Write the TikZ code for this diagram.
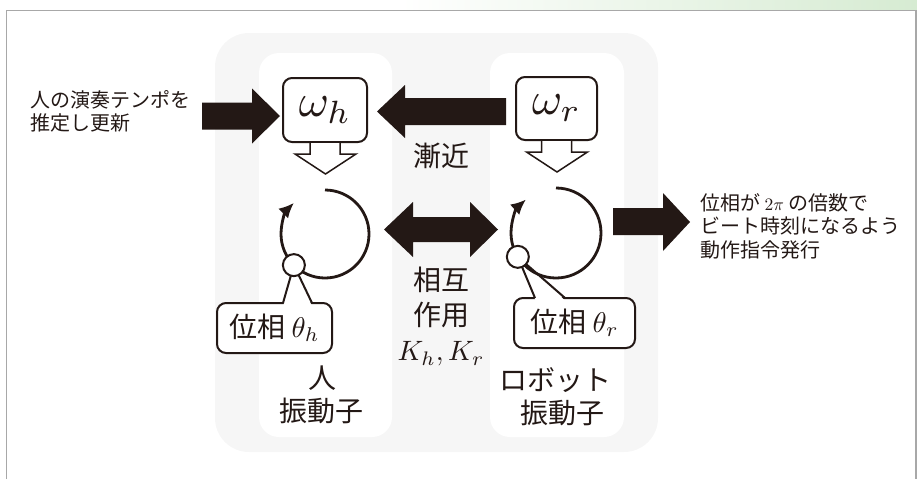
\documentclass[tikz,border=0pt]{standalone}
\usepackage{graphicx}
\usepackage[no-math]{fontspec}
\setmainfont{Noto Sans CJK JP}
\usetikzlibrary{arrows.meta}
\definecolor{ink}{HTML}{231815}
\definecolor{panel}{HTML}{F6F6F6}
\definecolor{framegray}{HTML}{A8A8A8}
\definecolor{bandgreen}{HTML}{D6EBD2}
\newcommand\mth[2]{\scalebox{#1}{\fontsize{10}{12}\selectfont$#2$}}
\begin{document}
\begin{tikzpicture}[x=1pt,y=-1pt,
  wbox/.style={draw=ink, line width=2, rounded corners=9, fill=white, minimum width=84, minimum height=64, inner sep=0, text=ink},
  callout/.style={draw=ink, line width=2, rounded corners=9, fill=white, minimum height=50, inner sep=0, font=\fontsize{28}{30}\selectfont, text=ink},
  dot/.style={circle, draw=ink, line width=2, fill=white, minimum size=22, inner sep=0},
  lab/.style={text=ink, inner sep=0, font=\fontsize{28}{34}\selectfont},
  note/.style={text=ink, inner sep=0, align=left, font=\fontsize{20}{23.5}\selectfont},
  hollow/.style={draw=ink, line width=1.5, fill=white, line join=miter},
  fat/.style={fill=ink},
  cyc/.style={draw=ink, line width=2.8, -{Latex[length=15,width=14]}}
]
\useasboundingbox (0,0) rectangle (917,479);
% top band and frame
\shade[left color=white, right color=bandgreen] (400,0) rectangle (917,10);
\draw[framegray, line width=1.5] (6.5,479) -- (6.5,10.5) -- (916,10.5) -- (916,479);
% panels
\fill[panel, rounded corners=34] (215,33) rectangle (658,452);
\fill[white, rounded corners=20] (259,53) rectangle (392,437);
\fill[white, rounded corners=20] (490,53) rectangle (624,437);
% omega boxes
\node[wbox] (wh) at (325,110) {\mth{4.6}{\omega_h}};
\node[wbox, minimum width=81, minimum height=63] (wr) at (556.5,108.5) {\mth{4.6}{\omega_r}};
% hollow arrows
\draw[hollow] ([xshift=-15pt]wh.south) -- ++(0,11) -- ++(-15,0) -- ++(30.5,20) -- ++(30.5,-20) -- ++(-16,0) -- ++(0,-11);
\draw[hollow] ([xshift=-15pt]wr.south) -- ++(0,11) -- ++(-15,0) -- ++(30.5,20) -- ++(30.5,-20) -- ++(-16,0) -- ++(0,-11);
% fat arrows
\fill[fat] (202,102.5) -- (252,102.5) -- (252,88.5) -- (280,116) -- (252,143.5) -- (252,129.5) -- (202,129.5) -- cycle;
\fill[fat] (506,98) -- (405,98) -- (405,85) -- (377,111.5) -- (405,138) -- (405,125) -- (506,125) -- cycle;
\fill[fat] (384,229.5) -- (413,202) -- (413,217) -- (470,217) -- (470,202) -- (498,229.5) -- (470,257) -- (470,242) -- (413,242) -- (413,257) -- cycle;
\fill[fat] (613,208) -- (663,208) -- (663,193) -- (690,222) -- (663,251) -- (663,235) -- (613,235) -- cycle;
% oscillator centres and phase points
\coordinate (ch) at (325,234);
\coordinate (cr) at (556,233);
\path (ch) ++(135:44) coordinate (ph);
\path (cr) ++(148:45) coordinate (pr);
% callouts
\node[callout, minimum width=115] (lh) at (274.5,328) {位相 \mth{2.85}{\theta_h}};
\node[callout, minimum width=121] (lr) at (574.5,323) {位相 \mth{2.85}{\theta_r}};
\fill[white] (283.5,305) -- (ph) -- (311.5,305) -- cycle;
\fill[white] (535.5,300) -- (pr) -- (564.5,300) -- cycle;
\draw[ink, line width=2, line join=round] (283,303) -- (ph) -- (312,303);
\draw[ink, line width=2, line join=round] (535,298) -- (pr) -- (565,298);
% cycles
\draw[cyc] (ch) ++(-90:44) arc[start angle=-90, end angle=225, radius=44];
\draw[cyc] (cr) ++(-90:45) arc[start angle=-90, end angle=228, radius=45];
\node[dot] (dh) at (ph) {};
\node[dot] (dr) at (pr) {};
% labels
\node[note, anchor=west] (intext) at (30,111.5) {人の演奏テンポを\\推定し更新};
\node[note, anchor=west] (outtext) at (700,226) {位相が \mth{1.75}{2\pi} の倍数で\\ビート時刻になるよう\\動作指令発行};
\node[lab] (zk) at (441,156) {漸近};
\node[lab] (so) at (441,280) {相互};
\node[lab] (sa) at (441,315) {作用};
\node[lab] (kk) at (441,354) {\mth{2.8}{K_h,K_r}};
\node[lab] (hito) at (322,378) {人};
\node[lab] (sh1) at (321,411) {振動子};
\node[lab] (robo) at (555,380) {ロボット};
\node[lab] (sh2) at (562,413) {振動子};
\end{tikzpicture}
\end{document}
